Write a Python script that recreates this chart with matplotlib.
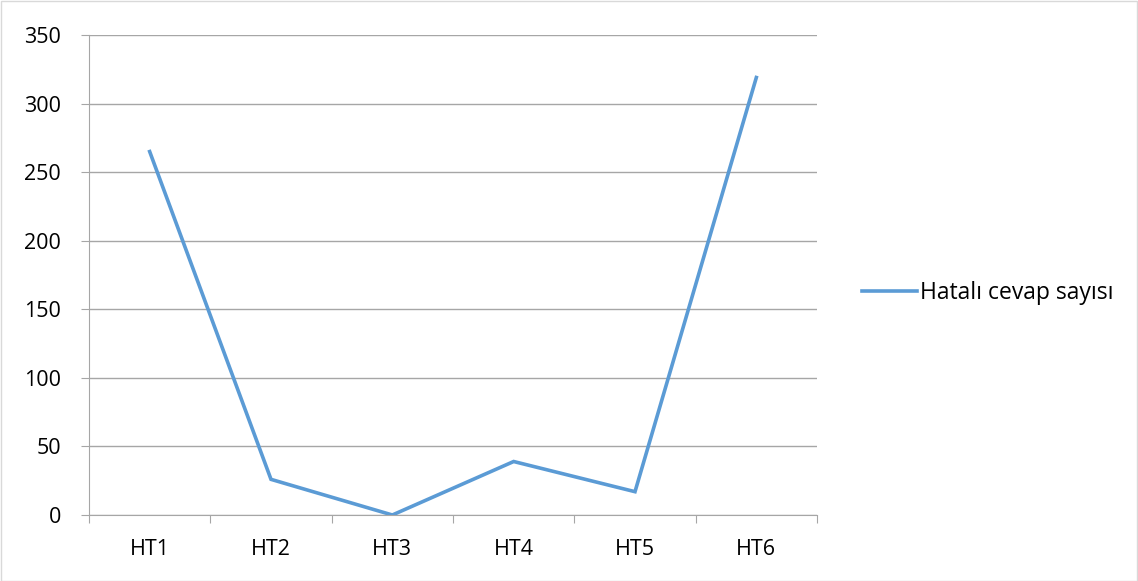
import matplotlib
matplotlib.use("Agg")
from matplotlib import pyplot as plt
import numpy as np

categories = ["HT1", "HT2", "HT3", "HT4", "HT5", "HT6"]
values = [265, 26, 0, 39, 17, 319]
series_name = "Hatalı cevap sayısı"

plt.rcParams['font.family'] = ['Open Sans', 'DejaVu Sans']

fig = plt.figure(figsize=(11.38, 5.81), dpi=100)
ax = fig.add_axes([89/1138, 1 - 515/581, (817-89)/1138, (515-35)/581])

x = np.arange(len(categories)) + 0.5
ax.plot(x, values, color="#5B9BD5", lw=2.6, solid_joinstyle="miter", label=series_name)

ax.set_xlim(0, len(categories))
ax.set_ylim(0, 350)
ax.set_yticks(np.arange(0, 351, 50))
ax.yaxis.grid(True, color="#A6A6A6", lw=1)
ax.set_axisbelow(True)

ax.set_xticks(np.arange(0, len(categories) + 1))
ax.set_xticklabels([])
ax.set_xticks(x, minor=True)
ax.set_xticklabels(categories, minor=True)
ax.tick_params(axis="x", which="major", length=6, color="#A6A6A6", direction="out")
ax.tick_params(axis="x", which="minor", length=0, pad=17, labelsize=15.5)
ax.tick_params(axis="y", length=6, color="#A6A6A6", labelsize=15.5, pad=14)

for s in ["top", "right"]:
    ax.spines[s].set_visible(False)
ax.spines["left"].set_color("#A6A6A6")
ax.spines["bottom"].set_color("#A6A6A6")

ax.legend(loc="center left", bbox_to_anchor=(841/1138, 1 - 293/581),
          bbox_transform=fig.transFigure, frameon=False,
          fontsize=16.5, handlelength=2.4, handletextpad=0.15)

fig.patches.append(plt.Rectangle((0.5/1138, 0.5/581), 1 - 1.5/1138, 1 - 1.5/581,
                                 transform=fig.transFigure, fill=False,
                                 edgecolor="#D9D9D9", lw=1))

fig.savefig("out.png", dpi=100)
